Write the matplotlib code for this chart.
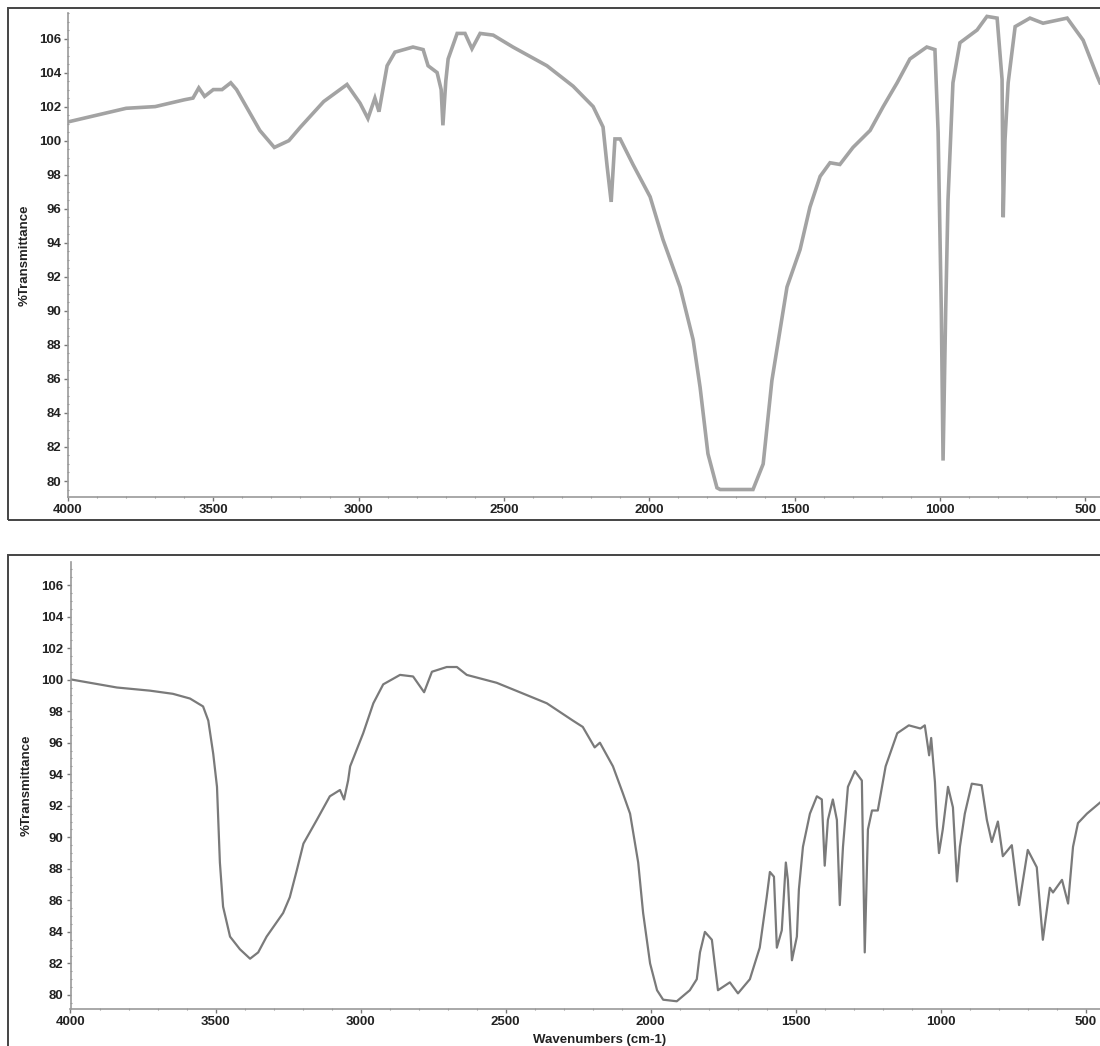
import matplotlib
matplotlib.use("Agg")
import matplotlib.pyplot as plt
from matplotlib.patches import Rectangle
from matplotlib.ticker import MultipleLocator

# spectrum 1 (top)
top_wn = [4000, 3900, 3800, 3700, 3600, 3570, 3550, 3530, 3500, 3470, 3440, 3420,
          3380, 3340, 3290, 3240, 3200, 3120, 3040, 2995, 2968, 2944, 2930, 2902,
          2875, 2813, 2778, 2761, 2730, 2716, 2710, 2700, 2692, 2661, 2634, 2610,
          2582, 2537, 2469, 2352, 2262, 2193, 2159, 2145, 2131, 2118, 2100, 2056,
          1997, 1953, 1894, 1849, 1825, 1798, 1767, 1756, 1643, 1608, 1578, 1526,
          1481, 1447, 1412, 1378, 1344, 1299, 1240, 1195, 1147, 1103, 1045, 1017,
          1006, 995, 989, 980, 972, 955, 931, 872, 838, 803, 786, 782, 776, 765,
          741, 690, 645, 562, 507, 459, 449]
top_t = [101.1, 101.5, 101.9, 102.0, 102.4, 102.5, 103.1, 102.6, 103.0, 103.0, 103.4, 103.0,
         101.8, 100.6, 99.6, 100.0, 100.8, 102.3, 103.3, 102.2, 101.3, 102.5, 101.7, 104.4,
         105.2, 105.5, 105.35, 104.4, 104.0, 103.0, 100.9, 103.5, 104.8, 106.3, 106.3, 105.4,
         106.3, 106.2, 105.5, 104.4, 103.2, 102.0, 100.8, 98.5, 96.4, 100.1, 100.1, 98.6,
         96.7, 94.2, 91.4, 88.3, 85.5, 81.6, 79.6, 79.5, 79.5, 81.0, 85.9, 91.4,
         93.6, 96.1, 97.9, 98.7, 98.6, 99.6, 100.6, 102.0, 103.4, 104.8, 105.5, 105.35,
         100.5, 90.0, 81.2, 90.0, 96.5, 103.4, 105.75, 106.5, 107.3, 107.2, 103.6, 95.5, 100.0, 103.4,
         106.7, 107.2, 106.9, 107.2, 105.9, 103.8, 103.4]

# spectrum 2 (bottom)
bot_wn = [3995, 3840, 3726, 3647, 3588, 3543, 3525, 3508, 3495, 3485, 3474, 3450,
          3416, 3381, 3353, 3324, 3267, 3244, 3220, 3197, 3151, 3106, 3071, 3057,
          3043, 3036, 2991, 2956, 2922, 2864, 2819, 2781, 2754, 2703, 2668, 2634,
          2531, 2451, 2358, 2268, 2234, 2193, 2175, 2130, 2096, 2071, 2043, 2026,
          2002, 1978, 1957, 1910, 1865, 1841, 1830, 1813, 1789, 1778, 1768, 1727,
          1699, 1658, 1624, 1600, 1589, 1575, 1565, 1548, 1534, 1527, 1513, 1496,
          1489, 1475, 1451, 1427, 1410, 1400, 1389, 1372, 1358, 1348, 1337, 1320,
          1296, 1272, 1262, 1251, 1237, 1217, 1190, 1150, 1110, 1070, 1055, 1040,
          1033, 1020, 1013, 1006, 993, 975, 958, 944, 934, 917, 893, 859, 841, 824,
          803, 786, 755, 730, 700, 669, 648, 624, 613, 582, 561, 544, 527, 496, 451]
bot_t = [100.0, 99.5, 99.3, 99.1, 98.8, 98.3, 97.4, 95.3, 93.2, 88.4, 85.6, 83.7,
         82.9, 82.3, 82.7, 83.7, 85.2, 86.2, 87.9, 89.6, 91.1, 92.6, 93.0, 92.4,
         93.6, 94.5, 96.6, 98.5, 99.7, 100.3, 100.2, 99.2, 100.5, 100.8, 100.8, 100.3,
         99.8, 99.2, 98.5, 97.4, 97.0, 95.7, 96.0, 94.5, 92.8, 91.5, 88.4, 85.2,
         82.0, 80.3, 79.7, 79.6, 80.3, 81.0, 82.7, 84.0, 83.5, 81.8, 80.3, 80.8,
         80.1, 81.0, 83.0, 86.2, 87.8, 87.5, 83.0, 84.1, 88.4, 87.3, 82.2, 83.7,
         86.7, 89.4, 91.5, 92.6, 92.4, 88.2, 91.1, 92.4, 91.1, 85.7, 89.4, 93.2,
         94.2, 93.6, 82.7, 90.5, 91.7, 91.7, 94.5, 96.6, 97.1, 96.9, 97.1, 95.2,
         96.3, 93.5, 90.7, 89.0, 90.5, 93.2, 91.9, 87.2, 89.4, 91.5, 93.4, 93.3, 91.1, 89.7,
         91.0, 88.8, 89.5, 85.7, 89.2, 88.1, 83.5, 86.8, 86.5, 87.3, 85.8, 89.4, 90.9, 91.5, 92.2]

x_ticks = [4000, 3500, 3000, 2500, 2000, 1500, 1000, 500]
y_ticks = [80, 82, 84, 86, 88, 90, 92, 94, 96, 98, 100, 102, 104, 106]

plt.rcParams['font.family'] = ['Liberation Sans', 'DejaVu Sans']

fig = plt.figure(figsize=(11, 10.46), dpi=100)

# frames around each panel
fig.patches.append(Rectangle((8 / 1100, 1 - 520 / 1046), 1.2, 512 / 1046,
                             transform=fig.transFigure, fill=False,
                             edgecolor='#444444', linewidth=1.4))
fig.patches.append(Rectangle((8 / 1100, -0.1), 1.2, 1 - 555 / 1046 + 0.1,
                             transform=fig.transFigure, fill=False,
                             edgecolor='#444444', linewidth=1.4))

ax1 = fig.add_axes([68 / 1100, 1 - 497 / 1046, 1 - 68 / 1100, (497 - 13) / 1046])
ax2 = fig.add_axes([70.5 / 1100, 1 - 1009 / 1046, 1 - 70.5 / 1100, (1009 - 562) / 1046])

ax1.plot(top_wn, top_t, color='#a3a3a3', linewidth=2.6, solid_joinstyle='miter')
ax2.plot(bot_wn, bot_t, color='#7a7a7a', linewidth=1.6)

ax1.set_xlim(4000, 449)
ax1.set_ylim(79.06, 107.5)
ax2.set_xlim(4000, 451)
ax2.set_ylim(79.11, 107.46)

for ax in (ax1, ax2):
    ax.patch.set_alpha(0)
    for s in ('top', 'right'):
        ax.spines[s].set_visible(False)
    ax.spines['left'].set_color('#9a9a9a')
    ax.spines['bottom'].set_color('#9a9a9a')
    ax.spines['left'].set_linewidth(1.2)
    ax.spines['bottom'].set_linewidth(1.2)
    ax.set_xticks(x_ticks)
    ax.set_yticks(y_ticks)
    ax.xaxis.set_minor_locator(MultipleLocator(100))
    ax.yaxis.set_minor_locator(MultipleLocator(0.5))
    ax.tick_params(which='major', length=3, width=1, color='#777777',
                   labelsize=9.5, labelcolor='#222222', pad=2)
    ax.tick_params(which='minor', length=2, width=0.8, color='#999999', direction='inout')
    for lab in ax.get_xticklabels() + ax.get_yticklabels():
        lab.set_fontweight('bold')
    ax.set_ylabel('%Transmittance', fontsize=9.5, fontweight='bold', color='#222222',
                  labelpad=6)

fig.text(600 / 1100, 1 - 1040 / 1046, 'Wavenumbers (cm-1)', ha='center', va='center',
         fontsize=9.5, fontweight='bold', color='#222222')

fig.savefig('out.png', dpi=100)
